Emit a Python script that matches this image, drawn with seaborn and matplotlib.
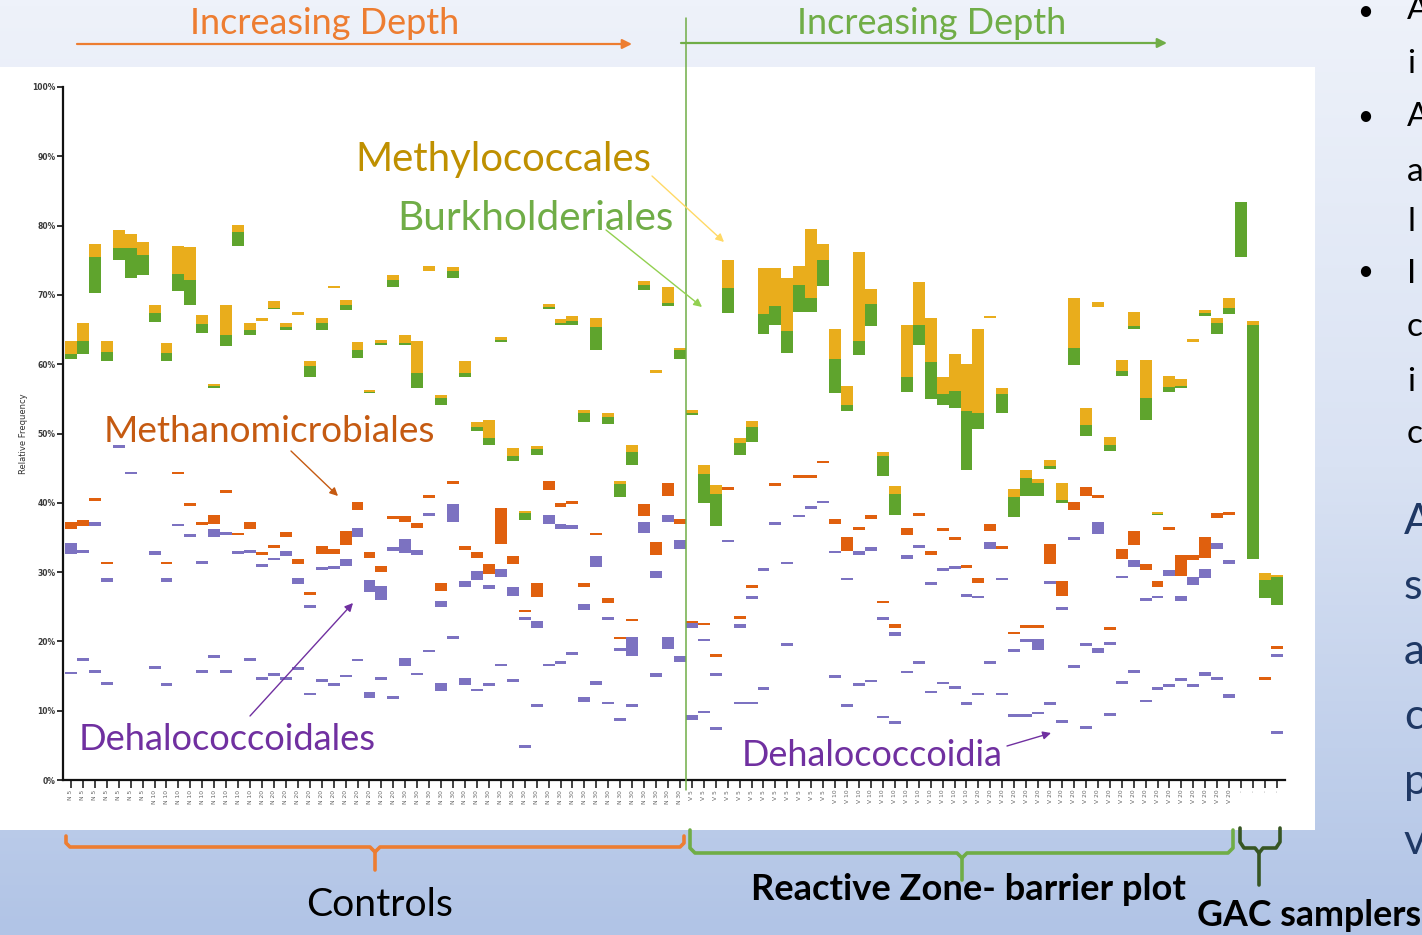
import numpy as np
import pandas as pd
import matplotlib
matplotlib.use("Agg")
import matplotlib.pyplot as plt
from matplotlib.colors import LinearSegmentedColormap
import seaborn as sns

# ---------------- data (relative frequency %, per sample column) ----------------
methylococcales = [
    (0, 61.4, 63.3), (1, 63.3, 66.0), (2, 75.5, 77.4), (3, 61.7, 63.3), (4, 76.8, 79.3),
    (5, 76.8, 78.8), (6, 75.7, 77.7), (7, 67.4, 68.5), (8, 61.6, 63.0), (9, 73.0, 77.1),
    (10, 72.1, 76.9), (11, 65.8, 67.1), (12, 56.9, 57.2), (13, 64.2, 68.5), (14, 79.1, 80.1),
    (15, 65.0, 66.0), (16, 66.2, 66.7), (17, 68.1, 69.1), (18, 65.3, 66.0), (19, 67.1, 67.6),
    (20, 59.7, 60.5), (21, 65.9, 66.6), (22, 71.0, 71.3), (23, 68.6, 69.3), (24, 62.0, 63.2),
    (25, 56.0, 56.3), (26, 63.0, 63.5), (27, 72.2, 72.9), (28, 63.0, 64.2), (29, 58.7, 63.4),
    (30, 73.5, 74.2), (31, 55.1, 55.6), (32, 73.4, 74.0), (33, 58.7, 60.5), (34, 51.0, 51.6),
    (35, 49.3, 52.0), (36, 63.5, 63.9), (37, 46.8, 47.9), (38, 38.5, 38.8), (39, 47.8, 48.2),
    (40, 68.2, 68.7), (41, 66.0, 66.5), (42, 66.3, 67.0), (43, 52.9, 53.4), (44, 65.3, 66.7),
    (45, 52.4, 52.9), (46, 42.7, 43.2), (47, 47.4, 48.4), (48, 71.4, 72.0), (49, 58.8, 59.2),
    (50, 68.8, 71.2), (51, 62.0, 62.3), (52, 53.0, 53.4), (53, 44.1, 45.5), (54, 41.3, 42.6),
    (55, 71.0, 75.1), (56, 48.6, 49.3), (57, 51.0, 51.8), (58, 67.3, 73.9), (59, 68.4, 73.9),
    (60, 64.8, 72.4), (61, 71.5, 74.2), (62, 69.6, 79.5), (63, 75.1, 77.3), (64, 60.7, 65.1),
    (65, 54.1, 56.8), (66, 63.4, 76.2), (67, 68.7, 70.9), (68, 46.7, 47.3), (69, 41.3, 42.4),
    (70, 58.1, 65.7), (71, 65.7, 71.9), (72, 60.3, 66.7), (73, 55.7, 58.2), (74, 56.1, 61.5),
    (75, 53.2, 60.1), (76, 52.9, 65.1), (77, 66.7, 67.0), (78, 55.7, 56.5), (79, 40.9, 42.0),
    (80, 43.6, 44.7), (81, 42.8, 43.4), (82, 45.3, 46.2), (83, 40.4, 42.8), (84, 62.3, 69.5),
    (85, 51.2, 53.7), (86, 68.2, 69.0), (87, 48.4, 49.5), (88, 59.0, 60.6), (89, 65.5, 67.5),
    (90, 55.1, 60.6), (91, 38.4, 38.7), (92, 56.7, 58.3), (93, 56.8, 57.8), (94, 63.2, 63.6),
    (95, 67.4, 67.8), (96, 66.0, 66.7), (97, 68.1, 69.5), (99, 65.7, 66.2), (100, 28.8, 29.9),
    (101, 29.3, 29.6),
]
burkholderiales = [
    (0, 60.8, 61.4), (1, 61.4, 63.3), (2, 70.3, 75.5), (3, 60.5, 61.7), (4, 75.0, 76.8),
    (5, 72.5, 76.8), (6, 72.8, 75.7), (7, 66.1, 67.4), (8, 60.5, 61.6), (9, 70.6, 73.0),
    (10, 68.6, 72.1), (11, 64.5, 65.8), (12, 56.6, 56.9), (13, 62.6, 64.2), (14, 77.0, 79.1),
    (15, 64.2, 65.0), (17, 67.9, 68.1), (18, 65.0, 65.3), (20, 58.1, 59.7), (21, 65.0, 65.9),
    (23, 67.8, 68.6), (24, 60.9, 62.0), (25, 55.8, 56.0), (26, 62.7, 63.0), (27, 71.1, 72.2),
    (28, 62.7, 63.0), (29, 56.6, 58.7), (31, 54.1, 55.1), (32, 72.4, 73.4), (33, 58.2, 58.7),
    (34, 50.3, 51.0), (35, 48.3, 49.3), (36, 63.2, 63.5), (37, 46.0, 46.8), (38, 37.5, 38.5),
    (39, 46.9, 47.8), (40, 67.9, 68.2), (41, 65.7, 66.0), (42, 65.7, 66.3), (43, 51.6, 52.9),
    (44, 62.1, 65.3), (45, 51.3, 52.4), (46, 40.8, 42.7), (47, 45.5, 47.4), (48, 70.7, 71.4),
    (50, 68.4, 68.8), (51, 60.7, 62.0), (52, 52.7, 53.0), (53, 40.0, 44.1), (54, 36.7, 41.3),
    (55, 67.4, 71.0), (56, 46.9, 48.6), (57, 48.8, 51.0), (58, 64.4, 67.3), (59, 65.7, 68.4),
    (60, 61.6, 64.8), (61, 67.5, 71.5), (62, 67.6, 69.6), (63, 71.3, 75.1), (64, 55.8, 60.7),
    (65, 53.3, 54.1), (66, 61.3, 63.4), (67, 65.5, 68.7), (68, 43.9, 46.7), (69, 38.3, 41.3),
    (70, 56.0, 58.1), (71, 62.7, 65.7), (72, 55.0, 60.3), (73, 54.1, 55.7), (74, 53.7, 56.1),
    (75, 44.7, 53.2), (76, 50.6, 52.9), (78, 53.0, 55.7), (79, 38.0, 40.9), (80, 41.0, 43.6),
    (81, 41.0, 42.8), (82, 44.9, 45.3), (83, 39.9, 40.4), (84, 59.9, 62.3), (85, 49.6, 51.2),
    (87, 47.5, 48.4), (88, 58.3, 59.0), (89, 65.1, 65.5), (90, 51.9, 55.1), (91, 38.2, 38.4),
    (92, 56.0, 56.7), (93, 56.5, 56.8), (95, 67.0, 67.4), (96, 64.3, 66.0), (97, 67.3, 68.1),
    (98, 75.4, 83.4), (99, 31.9, 65.7), (100, 26.3, 28.8), (101, 25.3, 29.3),
]
methanomicrobiales = [
    (0, 36.2, 37.3), (1, 36.7, 37.5), (2, 40.3, 40.7), (3, 31.1, 31.5), (8, 31.1, 31.5),
    (9, 44.1, 44.5), (10, 39.5, 40.0), (11, 36.8, 37.3), (12, 37.0, 38.3), (13, 41.4, 41.8),
    (14, 35.3, 35.7), (15, 36.2, 37.2), (16, 32.5, 32.9), (17, 33.5, 33.9), (18, 35.1, 35.8),
    (19, 31.2, 31.9), (20, 26.7, 27.2), (21, 32.6, 33.7), (22, 32.6, 33.3), (23, 33.9, 35.9),
    (24, 38.9, 40.1), (25, 32.1, 32.9), (26, 30.0, 30.9), (27, 37.7, 38.1), (28, 37.2, 38.1),
    (29, 36.4, 37.1), (30, 40.7, 41.1), (31, 27.3, 28.4), (32, 42.7, 43.1), (33, 33.2, 33.7),
    (34, 32.0, 32.9), (35, 29.7, 31.2), (36, 34.1, 39.3), (37, 31.1, 32.3), (38, 24.2, 24.6),
    (39, 26.4, 28.4), (40, 41.9, 43.2), (41, 39.4, 40.0), (42, 39.8, 40.3), (43, 27.8, 28.4),
    (44, 35.3, 35.7), (45, 25.5, 26.2), (46, 20.3, 20.6), (47, 22.9, 23.3), (48, 38.1, 39.8),
    (49, 32.5, 34.3), (50, 41.0, 42.8), (51, 37.0, 37.7), (52, 22.6, 23.0), (53, 22.3, 22.7),
    (54, 17.8, 18.2), (55, 41.9, 42.3), (56, 23.3, 23.7), (57, 27.7, 28.1), (59, 42.4, 42.8),
    (61, 43.6, 44.0), (62, 43.6, 44.0), (63, 45.7, 46.1), (64, 36.9, 37.7), (65, 33.1, 35.1),
    (66, 36.1, 36.5), (67, 37.6, 38.2), (68, 25.5, 25.9), (69, 22.0, 22.5), (70, 35.3, 36.4),
    (71, 38.1, 38.5), (72, 32.5, 33.0), (73, 35.9, 36.3), (74, 34.7, 35.1), (75, 30.6, 31.0),
    (76, 28.4, 29.2), (77, 35.9, 37.0), (78, 33.4, 33.8), (79, 21.0, 21.4), (80, 22.0, 22.3),
    (81, 22.0, 22.3), (82, 31.1, 34.0), (83, 26.6, 28.7), (84, 38.9, 40.1), (85, 41.0, 42.3),
    (86, 40.7, 41.1), (87, 21.7, 22.1), (88, 31.9, 33.4), (89, 33.9, 35.9), (90, 30.3, 31.2),
    (91, 27.8, 28.7), (92, 36.1, 36.5), (93, 29.5, 32.5), (94, 31.8, 32.5), (95, 32.0, 35.1),
    (96, 37.8, 38.6), (97, 38.3, 38.7), (100, 14.4, 14.8), (101, 18.9, 19.3),
]
dehalococcoidia = [
    (0, 32.6, 34.2), (0, 15.3, 15.6), (1, 32.8, 33.2), (1, 17.2, 17.6), (2, 36.7, 37.2),
    (2, 15.5, 15.9), (3, 28.6, 29.1), (3, 13.7, 14.1), (4, 47.9, 48.3), (5, 44.1, 44.5),
    (7, 32.5, 33.0), (7, 16.0, 16.4), (8, 28.6, 29.1), (8, 13.6, 14.0), (9, 36.6, 37.0),
    (10, 35.0, 35.5), (11, 31.2, 31.6), (11, 15.5, 15.9), (12, 35.1, 36.2), (12, 17.6, 18.0),
    (13, 35.4, 35.8), (13, 15.5, 15.9), (14, 32.6, 33.0), (15, 32.8, 33.2), (15, 17.2, 17.6),
    (16, 30.7, 31.1), (16, 14.4, 14.8), (17, 31.8, 32.1), (17, 15.0, 15.4), (18, 32.3, 33.0),
    (18, 14.4, 14.8), (19, 28.3, 29.1), (19, 15.9, 16.3), (20, 24.8, 25.2), (20, 12.2, 12.6),
    (21, 30.3, 30.7), (21, 14.2, 14.6), (22, 30.5, 30.9), (22, 13.6, 14.0), (23, 30.9, 31.9),
    (23, 14.8, 15.2), (24, 35.0, 36.3), (24, 17.1, 17.5), (25, 27.1, 28.8), (25, 11.9, 12.7),
    (26, 26.0, 28.0), (26, 14.4, 14.8), (27, 33.1, 33.6), (27, 11.7, 12.1), (28, 32.8, 34.8),
    (28, 16.4, 17.6), (29, 32.5, 33.2), (29, 15.1, 15.5), (30, 38.1, 38.5), (30, 18.4, 18.8),
    (31, 25.0, 25.9), (31, 12.8, 14.0), (32, 37.2, 39.8), (32, 20.4, 20.8), (33, 27.9, 28.7),
    (33, 13.7, 14.7), (34, 28.8, 30.1), (34, 12.8, 13.2), (35, 27.5, 28.2), (35, 13.6, 14.0),
    (36, 29.3, 30.4), (36, 16.4, 16.8), (37, 26.6, 27.9), (37, 14.2, 14.6), (38, 23.1, 23.5),
    (38, 4.6, 5.0), (39, 22.0, 23.0), (39, 10.5, 10.9), (40, 37.0, 38.3), (40, 16.4, 16.8),
    (41, 36.2, 37.0), (41, 16.7, 17.1), (42, 36.2, 36.8), (42, 18.1, 18.5), (43, 24.5, 25.4),
    (43, 11.2, 12.0), (44, 30.8, 32.3), (44, 13.7, 14.3), (45, 23.1, 23.5), (45, 10.9, 11.3),
    (46, 18.6, 19.0), (46, 8.5, 8.9), (47, 17.9, 20.6), (47, 10.6, 11.0), (48, 35.6, 37.3),
    (49, 29.2, 30.2), (49, 14.8, 15.5), (50, 37.3, 38.2), (50, 18.9, 20.6), (51, 33.3, 34.6),
    (51, 17.0, 17.9), (52, 22.0, 22.6), (52, 8.7, 9.4), (53, 20.0, 20.4), (53, 9.6, 10.0),
    (54, 15.0, 15.4), (54, 7.2, 7.6), (55, 34.3, 34.7), (56, 22.0, 22.5), (56, 10.9, 11.3),
    (57, 26.1, 26.5), (57, 10.9, 11.3), (58, 30.2, 30.6), (58, 13.0, 13.4), (59, 36.8, 37.2),
    (60, 31.1, 31.5), (60, 19.3, 19.7), (61, 37.9, 38.3), (62, 39.1, 39.5), (63, 39.9, 40.3),
    (64, 32.7, 33.1), (64, 14.7, 15.1), (65, 28.8, 29.2), (65, 10.6, 11.0), (66, 32.5, 33.0),
    (66, 13.6, 14.0), (67, 33.1, 33.6), (67, 14.1, 14.5), (68, 23.1, 23.5), (68, 8.9, 9.3),
    (69, 20.8, 21.4), (69, 8.1, 8.5), (70, 31.9, 32.5), (70, 15.4, 15.8), (71, 33.5, 33.9),
    (71, 16.7, 17.1), (72, 28.1, 28.5), (72, 12.5, 12.9), (73, 30.2, 30.6), (73, 13.8, 14.2),
    (74, 30.5, 30.9), (74, 13.2, 13.6), (75, 26.4, 26.8), (75, 10.8, 11.2), (76, 26.2, 26.6),
    (76, 12.2, 12.6), (77, 33.4, 34.4), (77, 16.7, 17.2), (78, 28.8, 29.2), (78, 12.2, 12.6),
    (79, 18.5, 18.9), (79, 9.1, 9.5), (80, 19.9, 20.3), (80, 9.1, 9.5), (81, 18.8, 20.4),
    (81, 9.5, 9.8), (82, 28.3, 28.7), (82, 10.8, 11.2), (83, 24.6, 25.0), (83, 8.2, 8.6),
    (84, 34.7, 35.1), (84, 16.2, 16.6), (85, 19.3, 19.7), (85, 7.4, 7.8), (86, 35.5, 37.3),
    (86, 18.3, 19.0), (87, 19.5, 19.9), (87, 9.3, 9.7), (88, 29.1, 29.5), (88, 13.9, 14.3),
    (89, 30.8, 31.7), (89, 15.5, 15.9), (90, 25.8, 26.2), (90, 11.2, 11.6), (91, 26.2, 26.5),
    (91, 13.0, 13.4), (92, 29.5, 30.3), (92, 13.4, 13.8), (93, 25.8, 26.5), (93, 14.3, 14.7),
    (94, 28.1, 29.3), (94, 13.4, 13.9), (95, 29.2, 30.4), (95, 15.0, 15.6), (96, 33.3, 34.2),
    (96, 14.5, 14.9), (97, 31.1, 31.7), (97, 11.9, 12.4), (101, 17.8, 18.2), (101, 6.6, 7.0),
]

sample_sites = ["N"] * 52 + ["V"] * 46 + [""] * 4
sample_depths = (["5"] * 7 + ["10"] * 9 + ["20"] * 12 + ["30"] * 24 +
                 ["5"] * 12 + ["10"] * 12 + ["20"] * 22 + ["·"] * 4)
y_ticks = [0, 10, 20, 30, 40, 50, 60, 70, 80, 90, 100]
y_tick_labels = ["0%", "10%", "20%", "30%", "40%", "50%", "60%", "70%", "80%", "90%", "100%"]

taxa_colors = {
    "Methylococcales": "#e9ad1c",
    "Burkholderiales": "#5fa42d",
    "Methanomicrobiales": "#e0600e",
    "Dehalococcoidia": "#7c72c1",
}
frames = []
for name, rows in [("Methylococcales", methylococcales), ("Burkholderiales", burkholderiales),
                   ("Methanomicrobiales", methanomicrobiales), ("Dehalococcoidia", dehalococcoidia)]:
    d = pd.DataFrame(rows, columns=["sample", "low", "high"])
    d["taxon"] = name
    frames.append(d)
df = pd.concat(frames, ignore_index=True)
df["height"] = df["high"] - df["low"]

# ---------------- figure ----------------
sns.set_theme(style="white")
plt.rcParams["font.family"] = ["Lato", "DejaVu Sans"]

W, H = 1422, 935
fig = plt.figure(figsize=(W / 100, H / 100), dpi=100)

# slide background
bg = fig.add_axes([0, 0, 1, 1], zorder=0)
bg.set_xlim(0, W)
bg.set_ylim(H, 0)
bg.axis("off")
cmap = LinearSegmentedColormap.from_list("slide", ["#eef2fa", "#d9e2f3", "#b1c4e6"])
grad = np.linspace(0, 1, 300).reshape(-1, 1)
bg.imshow(grad, extent=[0, W, H, 0], aspect="auto", cmap=cmap, zorder=0)
bg.add_patch(plt.Rectangle((0, 67), 1315, 763, facecolor="white", edgecolor="none", zorder=1))

# chart axes
x0_px, x1_px, y0_px, y100_px = 63, 1285, 780, 87
ax = fig.add_axes([x0_px / W, (H - y0_px) / H, (x1_px - x0_px) / W, (y0_px - y100_px) / H], zorder=2)
ax.set_facecolor("none")
step = 11.94
ax.set_xlim(-0.5 - 2 / step, -0.5 + (x1_px - 65) / step)
ax.set_ylim(0, 100)

for taxon, color in taxa_colors.items():
    sub = df[df["taxon"] == taxon]
    ax.bar(sub["sample"], sub["height"], bottom=sub["low"], width=1.0,
           color=color, linewidth=0, zorder=3)

sns.despine(ax=ax)
for sp in ["left", "bottom"]:
    ax.spines[sp].set_color("#111111")
    ax.spines[sp].set_linewidth(1.6)

ax.set_yticks(y_ticks)
ax.set_yticklabels(y_tick_labels, fontsize=5.5, fontweight="bold", color="#3a3a3a",
                   family=["DejaVu Sans"])
ax.tick_params(axis="y", direction="out", length=4, width=1.2, color="#111111", pad=1.5, left=True)
n = len(sample_sites)
ax.set_xticks(range(n))
ax.set_xticklabels([f"{s} {d}".strip() for s, d in zip(sample_sites, sample_depths)],
                   rotation=90, fontsize=4.3, color="#666666", family=["DejaVu Sans"])
ax.tick_params(axis="x", direction="out", length=6, width=1.1, color="#111111", pad=1, bottom=True)
ax.set_ylabel("Relative Frequency", fontsize=6, color="#333333", labelpad=3,
              family=["DejaVu Sans"])
ax.grid(False)

# overlay for slide annotations (pixel coordinates)
ov = fig.add_axes([0, 0, 1, 1], zorder=5)
ov.set_xlim(0, W)
ov.set_ylim(H, 0)
ov.axis("off")
ov.patch.set_visible(False)

renderer = fig.canvas.get_renderer()


def fit_text(s, xl, xr, yc, color, weight="normal"):
    t = ov.text((xl + xr) / 2, yc, s, ha="center", va="center", fontsize=20,
                color=color, fontweight=weight)
    w = t.get_window_extent(renderer).width
    t.set_fontsize(20 * (xr - xl) / w)
    return t


ORANGE, GREEN = "#ed7d31", "#70ad47"
fit_text("Increasing Depth", 190, 460, 24, ORANGE)
fit_text("Increasing Depth", 797, 1067, 24, GREEN)
fit_text("Methylococcales", 355, 651, 160, "#bf9000")
fit_text("Burkholderiales", 396, 674, 218, GREEN)
fit_text("Methanomicrobiales", 103, 435, 432, "#c55a11")
fit_text("Dehalococcoidales", 78, 376, 739, "#7030a0")
fit_text("Dehalococcoidia", 742, 1003, 756, "#7030a0")
fit_text("Controls", 306, 453, 905, "black")
fit_text("Reactive Zone- barrier plot", 751, 1186, 890, "black", weight="bold")
fit_text("GAC samplers", 1197, 1421, 916, "black", weight="bold")


def arrow(p0, p1, color, lw=1.0, ms=12):
    ov.annotate("", xy=p1, xytext=p0,
                arrowprops=dict(arrowstyle="-|>", color=color, lw=lw, mutation_scale=ms,
                                shrinkA=0, shrinkB=0))


arrow((77, 44), (632, 44), ORANGE, lw=1.6, ms=14)
arrow((681, 43), (1167, 43), GREEN, lw=1.6, ms=14)
arrow((652, 176), (724, 242), "#ffd966", lw=1.0)
arrow((606, 230), (702, 307), "#92d050", lw=1.0)
arrow((291, 451), (338, 496), "#c55a11", lw=1.0)
arrow((250, 716), (353, 603), "#7030a0", lw=1.0)
arrow((1007, 746), (1051, 733), "#7030a0", lw=1.0)

# vertical divider
ov.plot([686, 686], [18, 790], color=GREEN, lw=1.1)


# braces
def brace(pts_l, pts_r, color):
    for pts in (pts_l, pts_r):
        xs, ys = zip(*pts)
        ov.plot(xs, ys, color=color, lw=2.6, solid_capstyle="round", solid_joinstyle="round")


brace([(66, 836), (66, 843), (70, 847), (370, 847), (375, 852), (375, 870)],
      [(375, 852), (380, 847), (680, 847), (684, 843), (684, 836)], ORANGE)
brace([(690, 830), (690, 848), (695, 853), (957, 853), (962, 858), (962, 880)],
      [(962, 858), (967, 853), (1228, 853), (1233, 848), (1233, 830)], GREEN)
brace([(1240, 828), (1240, 842), (1244, 848), (1255, 848), (1259, 853), (1259, 885)],
      [(1259, 853), (1263, 848), (1276, 848), (1280, 842), (1280, 828)], "#375623")

# right-hand slide text (cut by the slide edge, as in the original slide)
for y in (12, 117, 272):
    ov.text(1365, y, "•", ha="center", va="center", fontsize=20, color="black")
for ch, y in [("A", 10), ("i", 64), ("A", 117), ("a", 172), ("l", 222), ("I", 274),
              ("c", 327), ("i", 382), ("c", 434)]:
    ov.text(1407, y, ch, ha="left", va="center", fontsize=24, color="black")
for ch, y in [("A", 522), ("s", 587), ("a", 652), ("c", 717), ("p", 782), ("v", 842)]:
    ov.text(1404, y, ch, ha="left", va="center", fontsize=31, color="#1f3864")

fig.savefig("out.png", dpi=100)
